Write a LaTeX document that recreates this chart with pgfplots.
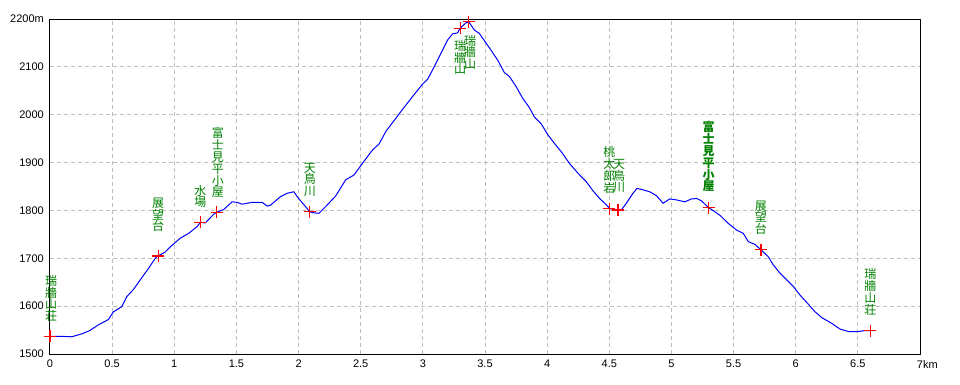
\documentclass[border=0pt]{standalone}
\usepackage{fontspec}
\setmainfont{Liberation Sans}
\newfontfamily\cjk{Noto Sans CJK JP}
\usepackage{pgfplots}
\pgfplotsset{compat=1.18}
\definecolor{lblgreen}{RGB}{0,128,0}
\definecolor{gridgray}{RGB}{190,190,190}
\begin{document}
\begin{tikzpicture}
\useasboundingbox (0,0) rectangle (960pt,384pt);
\begin{axis}[
 at={(50pt,30pt)}, anchor=south west,
 scale only axis, width=870pt, height=335pt,
 xmin=0, xmax=7, ymin=1500, ymax=2200,
 xtick={0,0.5,1,1.5,2,2.5,3,3.5,4,4.5,5,5.5,6,6.5,7},
 xticklabels={0,0.5,1,1.5,2,2.5,3,3.5,4,4.5,5,5.5,6,6.5,7\rlap{km}},
 ytick={1500,1600,1700,1800,1900,2000,2100,2200},
 yticklabels={1500,1600,1700,1800,1900,2000,2100,2200m},
 major tick length=0pt,
 grid=major,
 grid style={gridgray, line width=1pt, dash pattern=on 4pt off 3pt},
 axis line style={black, line width=1pt},
 tick label style={font=\fontsize{11}{13}\selectfont},
 xticklabel style={inner sep=0pt, yshift=-6pt},
 yticklabel style={inner sep=0pt, xshift=-6pt},
 clip=false,
 /pgf/number format/assume math mode=true,
]
\addplot[blue, line width=1pt, mark=none] coordinates {
(0,1537) (0.08,1537) (0.175,1536) (0.255,1542) (0.32,1549) (0.39,1561) (0.47,1572)
(0.51,1588) (0.578,1599) (0.618,1620) (0.672,1635) (0.74,1660) (0.793,1679) (0.847,1700)
(0.87,1705) (0.927,1713) (0.968,1724) (1.048,1742) (1.115,1752) (1.183,1766) (1.21,1775)
(1.25,1774) (1.317,1792) (1.34,1796) (1.398,1802) (1.465,1818) (1.505,1817) (1.546,1813)
(1.627,1817) (1.707,1817) (1.747,1809) (1.774,1811) (1.815,1820) (1.855,1829) (1.909,1836)
(1.962,1839) (2.0,1825) (2.056,1808) (2.09,1797) (2.123,1795) (2.164,1794) (2.218,1808)
(2.298,1830) (2.379,1864) (2.446,1874) (2.513,1898) (2.594,1926) (2.648,1939) (2.702,1965)
(2.836,2011) (2.917,2038) (2.998,2064) (3.038,2074) (3.091,2100) (3.145,2128) (3.199,2156)
(3.239,2169) (3.28,2171) (3.30,2181) (3.347,2192) (3.37,2194) (3.414,2177) (3.454,2170)
(3.508,2150) (3.548,2135) (3.602,2114) (3.656,2088) (3.696,2080) (3.75,2059) (3.804,2034)
(3.857,2015) (3.898,1995) (3.952,1981) (4.006,1958) (4.059,1940) (4.113,1923) (4.18,1898)
(4.247,1878) (4.315,1860) (4.369,1841) (4.422,1825) (4.476,1812) (4.503,1804) (4.543,1801)
(4.57,1801) (4.597,1801) (4.637,1815) (4.691,1836) (4.723,1846) (4.772,1843) (4.825,1839)
(4.879,1831) (4.933,1815) (4.986,1824) (5.04,1822) (5.108,1818) (5.161,1824) (5.202,1825)
(5.242,1820) (5.282,1810) (5.30,1806) (5.39,1790) (5.457,1773) (5.524,1759) (5.578,1752)
(5.618,1735) (5.672,1729) (5.72,1718) (5.78,1703) (5.82,1686) (5.873,1669) (5.927,1655)
(5.981,1641) (6.035,1623) (6.102,1604) (6.156,1588) (6.21,1576) (6.29,1564) (6.357,1552)
(6.425,1547) (6.505,1547) (6.558,1549) (6.6,1549)
};
\addplot[red, only marks, mark=+, mark size=6pt, line width=1.2pt] coordinates {
(0,1537) (0.87,1705) (1.21,1775) (1.34,1796) (2.09,1797) (3.30,2181) (3.37,2194)
(4.50,1804) (4.57,1801) (5.30,1806) (5.72,1718) (6.6,1549)
};
\tikzset{lbl/.style={text=lblgreen, font=\cjk\fontsize{12}{11.8}\selectfont, align=center, inner sep=0pt}}
\node[lbl, anchor=south] at (axis cs:0.01,1567) {瑞\\牆\\山\\荘};
\node[lbl, anchor=south] at (axis cs:0.87,1755) {展\\望\\台};
\node[lbl, anchor=south] at (axis cs:1.21,1805) {水\\場};
\node[lbl, anchor=south] at (axis cs:1.35,1826) {富\\士\\見\\平\\小\\屋};
\node[lbl, anchor=south] at (axis cs:2.09,1828) {天\\鳥\\川};
\node[lbl, anchor=north] at (axis cs:3.30,2156) {瑞\\牆\\山};
\node[lbl, anchor=north] at (axis cs:3.38,2167) {瑞\\牆\\山};
\node[lbl, anchor=south] at (axis cs:4.50,1836) {桃\\太\\郎\\岩};
\node[lbl, anchor=south] at (axis cs:4.58,1836) {天\\鳥\\川};
\node[lbl, anchor=south, font=\cjk\bfseries\fontsize{12}{11.8}\selectfont] at (axis cs:5.30,1838) {富\\士\\見\\平\\小\\屋};
\node[lbl, anchor=south] at (axis cs:5.72,1749) {展\\望\\台};
\node[lbl, anchor=south] at (axis cs:6.60,1581) {瑞\\牆\\山\\荘};
\end{axis}
\end{tikzpicture}
\end{document}
